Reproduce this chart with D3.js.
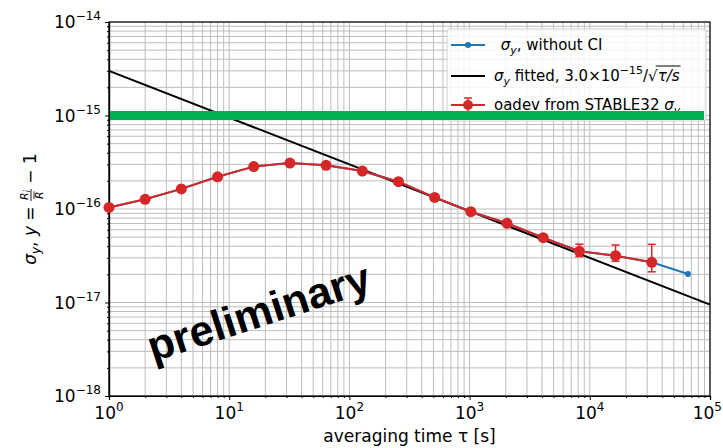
<!DOCTYPE html>
<html>
<head>
<meta charset="utf-8">
<script src="https://cdn.jsdelivr.net/npm/d3@7/dist/d3.min.js"></script>
<style>
  body { margin: 0; background: #fff; }
  text { font-family: "DejaVu Sans", sans-serif; fill: #000; }
</style>
</head>
<body>
<svg id="svg1" width="723" height="448"></svg>
<script>
// data
var tau = [1, 2, 4, 8, 16, 32, 64, 128, 256, 512, 1024, 2048, 4096, 8192, 16384, 32768];
var oadev = [1.04e-16, 1.27e-16, 1.64e-16, 2.21e-16, 2.84e-16, 3.10e-16, 2.93e-16, 2.55e-16,
             1.96e-16, 1.33e-16, 9.35e-17, 7.03e-17, 4.93e-17, 3.53e-17, 3.17e-17, 2.69e-17];
var errLow  = [null, null, null, null, null, null, null, null, null, null, null, 6.8e-17, 4.65e-17, 3.1e-17, 2.76e-17, 2.13e-17];
var errHigh = [null, null, null, null, null, null, null, null, null, null, null, 7.3e-17, 5.25e-17, 4.2e-17, 4.12e-17, 4.19e-17];
var tauBlue = [1, 2, 4, 8, 16, 32, 64, 128, 256, 512, 1024, 2048, 4096, 8192, 16384, 32768, 65536];
var sigmaBlue = [1.04e-16, 1.27e-16, 1.64e-16, 2.21e-16, 2.84e-16, 3.10e-16, 2.93e-16, 2.55e-16,
                 1.96e-16, 1.33e-16, 9.35e-17, 7.03e-17, 4.93e-17, 3.53e-17, 3.17e-17, 2.69e-17, 2.02e-17];
var fitCoef = 3.0e-15;
var fitTau = [1, 1e5];
var limitLevel = 1e-15;
var xDecades = [0, 1, 2, 3, 4, 5];
var yDecades = [-14, -15, -16, -17, -18];

var svg = d3.select("#svg1");
var margin = {top: 22, right: 13, bottom: 52, left: 109};
var width = +svg.attr("width") - margin.left - margin.right,
    height = +svg.attr("height") - margin.top - margin.bottom;

var x = d3.scaleLog().domain([1, 1e5]).range([0, width]),
    y = d3.scaleLog().domain([1e-18, 1e-14]).range([height, 0]);

var g = svg.append("g")
    .attr("transform", "translate(" + margin.left + "," + margin.top + ")");

// minor + major values for grid
var xMinor = [], yMinor = [];
for (var e = 0; e < 5; e++) for (var k = 2; k < 10; k++) xMinor.push(k * Math.pow(10, e));
for (var e = -18; e < -14; e++) for (var k = 2; k < 10; k++) yMinor.push(k * Math.pow(10, e));
var xMajor = xDecades.map(function(d) { return Math.pow(10, d); });
var yMajor = yDecades.map(function(d) { return Math.pow(10, d); });

// grid
g.selectAll(".gx").data(xMinor.concat(xMajor)).enter().append("line")
    .attr("x1", function(d) { return x(d); }).attr("x2", function(d) { return x(d); })
    .attr("y1", 0).attr("y2", height)
    .attr("stroke", "#bdbdbd").attr("stroke-width", 1);
g.selectAll(".gy").data(yMinor.concat(yMajor)).enter().append("line")
    .attr("y1", function(d) { return y(d); }).attr("y2", function(d) { return y(d); })
    .attr("x1", 0).attr("x2", width)
    .attr("stroke", "#bdbdbd").attr("stroke-width", 1);

// text in pieces (for sub/superscripts)
function rich(parent, x0, y0, parts) {
  var cx = x0, out = [];
  parts.forEach(function(p) {
    var t = parent.append("text")
        .attr("x", cx).attr("y", y0 + (p.dy || 0))
        .style("font-size", (p.size || 15) + "px")
        .style("font-style", p.italic ? "italic" : "normal")
        .style("white-space", "pre")
        .text(p.t);
    var w = t.node().getComputedTextLength();
    out.push([cx, cx + w]);
    cx += w;
  });
  out.end = cx;
  return out;
}

// axes: ticks only, labels done by hand
var xAxis = d3.axisBottom(x).tickValues(xMajor).tickSize(4).tickFormat("");
var xAxisMinor = d3.axisBottom(x).tickValues(xMinor).tickSize(2).tickFormat("");
var yAxis = d3.axisLeft(y).tickValues(yMajor).tickSize(4).tickFormat("");
var yAxisMinor = d3.axisLeft(y).tickValues(yMinor).tickSize(2).tickFormat("");

g.append("g").attr("transform", "translate(0," + height + ")").call(xAxis);
g.append("g").attr("transform", "translate(0," + height + ")").call(xAxisMinor);
g.append("g").call(yAxis);
g.append("g").call(yAxisMinor);
g.selectAll(".domain").attr("stroke", "#000").attr("stroke-width", 1.2);

g.append("rect").attr("width", width).attr("height", height)
    .attr("fill", "none").attr("stroke", "#000").attr("stroke-width", 1.2);

// tick labels
xDecades.forEach(function(d) {
  var tmp = g.append("g");
  var p = rich(tmp, 0, 0, [{t: "10", size: 17}, {t: String(d), size: 12, dy: -8}]);
  var w = p.end;
  var left = Math.min(x(Math.pow(10, d)) - w / 2, 723 - margin.left - w - 1);
  tmp.attr("transform", "translate(" + left + "," + (height + 23) + ")");
});
yDecades.forEach(function(d) {
  var tmp = g.append("g");
  var p = rich(tmp, 0, 0, [{t: "10", size: 17}, {t: "\u2212" + String(-d), size: 12, dy: -8}]);
  var w = p.end;
  tmp.attr("transform", "translate(" + (-8 - w) + "," + (y(Math.pow(10, d)) + 6) + ")");
});

// axis titles
var xl = g.append("g");
var xp = rich(xl, 0, 0, [{t: "averaging time \u03c4 [s]", size: 17}]);
xl.attr("transform", "translate(" + (width / 2 - xp.end / 2) + "," + (height + 46) + ")");

var yl = svg.append("g");
var yp = rich(yl, 0, 0, [
  {t: "\u03c3", size: 17, italic: true},
  {t: "y", size: 12, italic: true, dy: 4},
  {t: ", ", size: 17},
  {t: "y", size: 17, italic: true},
  {t: " = ", size: 17}
]);
var fx = yp.end;
var num = rich(yl, fx + 1, -8, [{t: "R", size: 11, italic: true}, {t: "i", size: 8, italic: true, dy: 2}]);
var den = rich(yl, fx + 2, 7, [{t: "R", size: 11, italic: true}]);
yl.append("line").attr("x1", den[0][0]).attr("x2", den[0][1])
    .attr("y1", -2).attr("y2", -2).attr("stroke", "#000").attr("stroke-width", 0.8);
var fracEnd = Math.max(num.end, den.end) + 1;
yl.append("line").attr("x1", fx).attr("x2", fracEnd)
    .attr("y1", -5).attr("y2", -5).attr("stroke", "#000").attr("stroke-width", 0.9);
var rest = rich(yl, fracEnd, 0, [{t: " \u2212 1", size: 17}]);
var ylen = rest.end;
yl.attr("transform", "translate(36," + (margin.top + height / 2 + ylen / 2) + ") rotate(-90)");

// fitted line
var line = d3.line()
    .x(function(d) { return x(d[0]); })
    .y(function(d) { return y(d[1]); });

g.append("path")
    .datum(fitTau.map(function(t) { return [t, fitCoef / Math.sqrt(t)]; }))
    .attr("d", line).attr("fill", "none").attr("stroke", "#000").attr("stroke-width", 2);

// blue series
var blueData = tauBlue.map(function(t, i) { return [t, sigmaBlue[i]]; });
g.append("path").datum(blueData).attr("d", line)
    .attr("fill", "none").attr("stroke", "#1f77b4").attr("stroke-width", 2);
g.selectAll(".bdot").data(blueData).enter().append("circle")
    .attr("cx", function(d) { return x(d[0]); }).attr("cy", function(d) { return y(d[1]); })
    .attr("r", 3).attr("fill", "#1f77b4");

// red series with error bars
var redData = tau.map(function(t, i) { return [t, oadev[i], errLow[i], errHigh[i]]; });
var bars = redData.filter(function(d) { return d[2] != null; });
g.selectAll(".eb").data(bars).enter().append("line")
    .attr("x1", function(d) { return x(d[0]); }).attr("x2", function(d) { return x(d[0]); })
    .attr("y1", function(d) { return y(d[2]); }).attr("y2", function(d) { return y(d[3]); })
    .attr("stroke", "#d62728").attr("stroke-width", 1.5);
[2, 3].forEach(function(j) {
  g.selectAll(".cap" + j).data(bars).enter().append("line")
      .attr("x1", function(d) { return x(d[0]) - 4; }).attr("x2", function(d) { return x(d[0]) + 4; })
      .attr("y1", function(d) { return y(d[j]); }).attr("y2", function(d) { return y(d[j]); })
      .attr("stroke", "#d62728").attr("stroke-width", 1.5);
});
g.append("path").datum(redData).attr("d", line)
    .attr("fill", "none").attr("stroke", "#d62728").attr("stroke-width", 2);
g.selectAll(".rdot").data(redData).enter().append("circle")
    .attr("cx", function(d) { return x(d[0]); }).attr("cy", function(d) { return y(d[1]); })
    .attr("r", 5.5).attr("fill", "#d62728");

// legend
var lg = svg.append("g");
lg.append("rect").attr("x", 447).attr("y", 29).attr("width", 259).attr("height", 92)
    .attr("rx", 3).attr("fill", "#fff").attr("fill-opacity", 0.85)
    .attr("stroke", "#d0d0d0").attr("stroke-width", 1);
var ly = [45, 76, 105];
lg.append("line").attr("x1", 451).attr("x2", 485).attr("y1", ly[0]).attr("y2", ly[0])
    .attr("stroke", "#1f77b4").attr("stroke-width", 2);
lg.append("circle").attr("cx", 468).attr("cy", ly[0]).attr("r", 3).attr("fill", "#1f77b4");
lg.append("line").attr("x1", 451).attr("x2", 485).attr("y1", ly[1]).attr("y2", ly[1])
    .attr("stroke", "#000").attr("stroke-width", 2);
lg.append("line").attr("x1", 451).attr("x2", 485).attr("y1", ly[2]).attr("y2", ly[2])
    .attr("stroke", "#d62728").attr("stroke-width", 2);
lg.append("line").attr("x1", 468).attr("x2", 468).attr("y1", ly[2] - 7).attr("y2", ly[2] + 7)
    .attr("stroke", "#d62728").attr("stroke-width", 1.5);
lg.append("line").attr("x1", 464).attr("x2", 472).attr("y1", ly[2] - 7).attr("y2", ly[2] - 7)
    .attr("stroke", "#d62728").attr("stroke-width", 1.5);
lg.append("circle").attr("cx", 468).attr("cy", ly[2]).attr("r", 5).attr("fill", "#d62728");

rich(lg, 496, ly[0] + 5, [
  {t: " \u03c3", italic: true}, {t: "y", size: 11, italic: true, dy: 4}, {t: ", without CI"}
]);
var r2 = rich(lg, 494, ly[1] + 5, [
  {t: "\u03c3", italic: true}, {t: "y", size: 11, italic: true, dy: 4},
  {t: " fitted, 3.0\u00d710"}, {t: "\u221215", size: 11, dy: -7}, {t: "/\u221a"},
  {t: "\u03c4/s", italic: true}
]);
lg.append("line").attr("x1", r2[5][0] - 2).attr("x2", r2[5][1] + 1)
    .attr("y1", ly[1] - 10).attr("y2", ly[1] - 10).attr("stroke", "#000").attr("stroke-width", 1);
rich(lg, 494, ly[2] + 5, [
  {t: "oadev from STABLE32 "}, {t: "\u03c3", italic: true}, {t: "y", size: 11, italic: true, dy: 4}
]);

// green limit bar
svg.append("line")
    .attr("x1", margin.left + 1).attr("x2", 704)
    .attr("y1", margin.top + y(limitLevel)).attr("y2", margin.top + y(limitLevel))
    .attr("stroke", "#00b050").attr("stroke-width", 9);

// watermark
svg.append("text")
    .attr("transform", "translate(153,362) rotate(-18)")
    .style("font-family", "'Liberation Sans', Arial, sans-serif")
    .style("font-weight", "bold").style("font-size", "43px")
    .text("preliminary");
</script>
</body>
</html>
